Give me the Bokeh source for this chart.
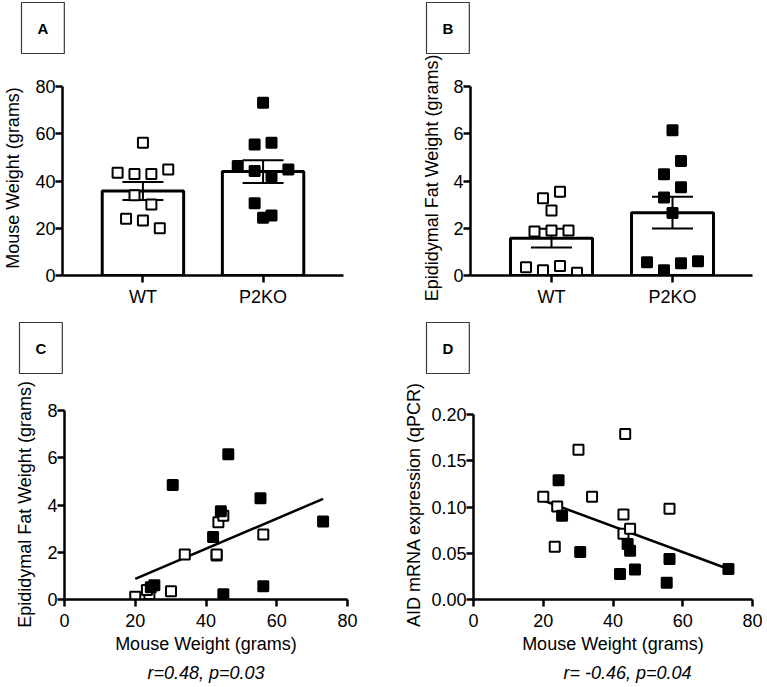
from bokeh.plotting import figure
from bokeh.models import Range1d, FixedTicker, Title, PrintfTickFormatter
from bokeh.layouts import column, row
from bokeh.embed import file_html
from bokeh.resources import INLINE

# ---------------- data ----------------
groups = ["WT", "P2KO"]
wt_weight = [56.2, 43.5, 43.0, 43.0, 44.9, 34.0, 30.1, 24.0, 23.3, 20.0]
wt_fat = [2.75, 3.27, 1.86, 1.90, 3.55, 1.90, 0.35, 0.22, 0.40, 0.12]
wt_aid = [0.098, 0.179, 0.092, 0.071, 0.0765, 0.111, 0.162, 0.1005, 0.057, 0.111]
ko_weight = [73.1, 55.4, 56.2, 46.3, 44.2, 42.0, 44.9, 30.6, 24.4, 25.4]
ko_fat = [3.30, 4.29, 0.56, 6.15, 3.74, 2.65, 0.22, 4.85, 0.52, 0.60]
ko_aid = [0.033, 0.018, 0.0438, 0.0323, 0.060, 0.0276, 0.0528, 0.0513, 0.129, 0.0905]
weight_mean = [35.8, 44.0]
weight_sem = [3.8, 4.8]
fat_mean = [1.58, 2.66]
fat_sem = [0.40, 0.67]
fit_c_x = [20.0, 73.1]
fit_c_y = [0.87, 4.26]
fit_d_x = [20.0, 73.1]
fit_d_y = [0.107, 0.033]
weight_ticks = [0, 20, 40, 60, 80]
fat_ticks = [0, 2, 4, 6, 8]
aid_ticks = [0, 0.05, 0.10, 0.15, 0.20]
stats_c = "r=0.48, p=0.03"
stats_d = "r= -0.46, p=0.04"
panel_letters = ["A", "B", "C", "D"]

FONT = "Liberation Sans"
TICK_FS = "18px"
TITLE_FS = "18px"


def lin(v0, p0, v1, p1, p):
    return v0 + (p - p0) * (v1 - v0) / (p1 - p0)


def make_fig(origin, size, frame, xmap, ymap):
    ox, oy = origin
    W, H = size
    fl, fr, ft, fb = frame
    p = figure(width=W, height=H, output_backend="svg", toolbar_location=None,
               min_border_left=fl - ox, min_border_right=ox + W - fr,
               min_border_top=ft - oy, min_border_bottom=oy + H - fb,
               x_range=Range1d(lin(*xmap, fl), lin(*xmap, fr)),
               y_range=Range1d(lin(*ymap, fb), lin(*ymap, ft)))
    p.outline_line_color = None
    p.xgrid.visible = False
    p.ygrid.visible = False
    p.background_fill_color = "white"
    p.border_fill_color = "white"
    for ax in (p.xaxis[0], p.yaxis[0]):
        ax.axis_line_width = 2.5
        ax.axis_line_color = "black"
        ax.major_tick_line_width = 2.5
        ax.major_tick_line_color = "black"
        ax.major_tick_out = 7
        ax.major_tick_in = 0
        ax.minor_tick_line_color = None
        ax.major_label_text_font = FONT
        ax.major_label_text_font_size = TICK_FS
        ax.major_label_text_color = "black"
        ax.major_label_standoff = 0
        ax.axis_label_text_font = FONT
        ax.axis_label_text_font_size = TITLE_FS
        ax.axis_label_text_font_style = "normal"
        ax.axis_label_text_color = "black"
    return p


def panel_label(p, text, offset, gap):
    # spacer nearest to the frame, then the boxed panel letter above it
    p.add_layout(Title(text=" ", text_font_size="2px", standoff=gap), "above")
    p.add_layout(Title(text=text, align="left", offset=offset, standoff=0,
                       text_font=FONT, text_font_size="15px", text_font_style="bold",
                       text_color="black", border_line_color="#3a3a3a",
                       border_line_width=1.2, background_fill_color="white",
                       padding=dict(left=16, right=16, top=17, bottom=17)), "above")


def swarm(vals, ppu_y, ppu_x, thresh=13.5, step=17.0):
    order = sorted(range(len(vals)), key=lambda i: -vals[i])
    rows = []
    for i in order:
        if rows and (vals[rows[-1][0]] - vals[i]) * ppu_y < thresh:
            rows[-1].append(i)
        else:
            rows.append([i])
    off = [0.0] * len(vals)
    for r in rows:
        r = sorted(r)
        n = len(r)
        for k, i in enumerate(r):
            off[i] = (k - (n - 1) / 2) * step / ppu_x
    return off


def bar_panel(origin, size, frame, xmap, ymap, means, sems, wt_vals, ko_vals,
              yticks, ytitle, letter, box_off, box_gap, title_standoff):
    p = make_fig(origin, size, frame, xmap, ymap)
    pos = [i + 1 for i, _ in enumerate(groups)]
    ppu_x = (xmap[3] - xmap[1]) / (xmap[2] - xmap[0])
    ppu_y = (ymap[1] - ymap[3]) / (ymap[2] - ymap[0])
    p.vbar(x=pos, top=means, bottom=0, width=82 / ppu_x, fill_color="white",
           line_color="black", line_width=3)
    up = [m + s for m, s in zip(means, sems)]
    lo = [m - s for m, s in zip(means, sems)]
    p.segment(x0=pos, y0=lo, x1=pos, y1=up, line_color="black", line_width=2)
    p.scatter(x=pos, y=up, marker="dash", size=41, line_color="black", line_width=2)
    p.scatter(x=pos, y=lo, marker="dash", size=41, line_color="black", line_width=2)
    wo = swarm(wt_vals, ppu_y, ppu_x)
    ko = swarm(ko_vals, ppu_y, ppu_x)
    p.scatter(x=[pos[0] + o for o in wo], y=wt_vals, marker="square", size=10,
              fill_color="white", line_color="black", line_width=2)
    p.scatter(x=[pos[1] + o for o in ko], y=ko_vals, marker="square", size=10,
              fill_color="black", line_color="black", line_width=2)
    xa = p.xaxis[0]
    xa.ticker = FixedTicker(ticks=pos)
    xa.major_label_overrides = {pp: g for pp, g in zip(pos, groups)}
    xa.major_label_standoff = 4
    ya = p.yaxis[0]
    ya.ticker = FixedTicker(ticks=yticks)
    ya.bounds = (yticks[0], yticks[-1])
    ya.axis_label = ytitle
    ya.axis_label_standoff = title_standoff
    panel_label(p, letter, box_off, box_gap)
    return p


def scatter_panel(origin, size, frame, xmap, ymap, wt_y, ko_y, fit_x, fit_y,
                  yticks, ytitle, yfmt, letter, box_off, box_gap, stats,
                  stats_align, stats_off, title_standoff):
    p = make_fig(origin, size, frame, xmap, ymap)
    p.line(x=fit_x, y=fit_y, line_color="black", line_width=2.5)
    p.scatter(x=wt_weight, y=wt_y, marker="square", size=10,
              fill_color="white", line_color="black", line_width=2)
    p.scatter(x=ko_weight, y=ko_y, marker="square", size=10,
              fill_color="black", line_color="black", line_width=2)
    xa = p.xaxis[0]
    xa.ticker = FixedTicker(ticks=weight_ticks)
    xa.axis_label = "Mouse Weight (grams)"
    xa.axis_label_standoff = 4
    xa.major_label_standoff = 7
    ya = p.yaxis[0]
    ya.ticker = FixedTicker(ticks=yticks)
    ya.bounds = (yticks[0], yticks[-1])
    ya.axis_label = ytitle
    ya.axis_label_standoff = title_standoff
    if yfmt:
        ya.formatter = PrintfTickFormatter(format=yfmt)
    panel_label(p, letter, box_off, box_gap)
    p.add_layout(Title(text=stats, align=stats_align, offset=stats_off, standoff=8,
                       text_font=FONT, text_font_size="18px", text_font_style="italic",
                       text_color="black"), "below")
    return p


# frame tops/bottoms are kept equal within each row
pA = bar_panel((0, 0), (384, 320), (60, 343, 80, 275), (1, 141, 2, 262), (0, 275, 80, 86),
               weight_mean, weight_sem, wt_weight, ko_weight, weight_ticks,
               "Mouse Weight (grams)", panel_letters[0], -41, 23, 9)
pB = bar_panel((384, 0), (383, 320), (470, 752, 80, 275), (1, 551, 2, 672), (0, 275, 8, 86),
               fat_mean, fat_sem, wt_fat, ko_fat, fat_ticks,
               "Epididymal Fat Weight (grams)", panel_letters[1], -44, 23, 8)
pC = scatter_panel((0, 320), (384, 367), (64, 347, 409, 599), (0, 64, 80, 347), (0, 599, 8, 410),
                   wt_fat, ko_fat, fit_c_x, fit_c_y, fat_ticks,
                   "Epididymal Fat Weight (grams)", None, panel_letters[2], -45, 32,
                   stats_c, "center", 0, 9)
pD = scatter_panel((384, 320), (383, 367), (473, 752, 409, 599), (0, 473, 80, 752), (0, 599, 0.2, 414),
                   wt_aid, ko_aid, fit_d_x, fit_d_y, aid_ticks,
                   "AID mRNA expression (qPCR)", "%.2f", panel_letters[3], -47, 32,
                   stats_d, "left", 90, 4)

layout = column(row(pA, pB), row(pC, pD))
open("out.html", "w").write(file_html(layout, INLINE))
